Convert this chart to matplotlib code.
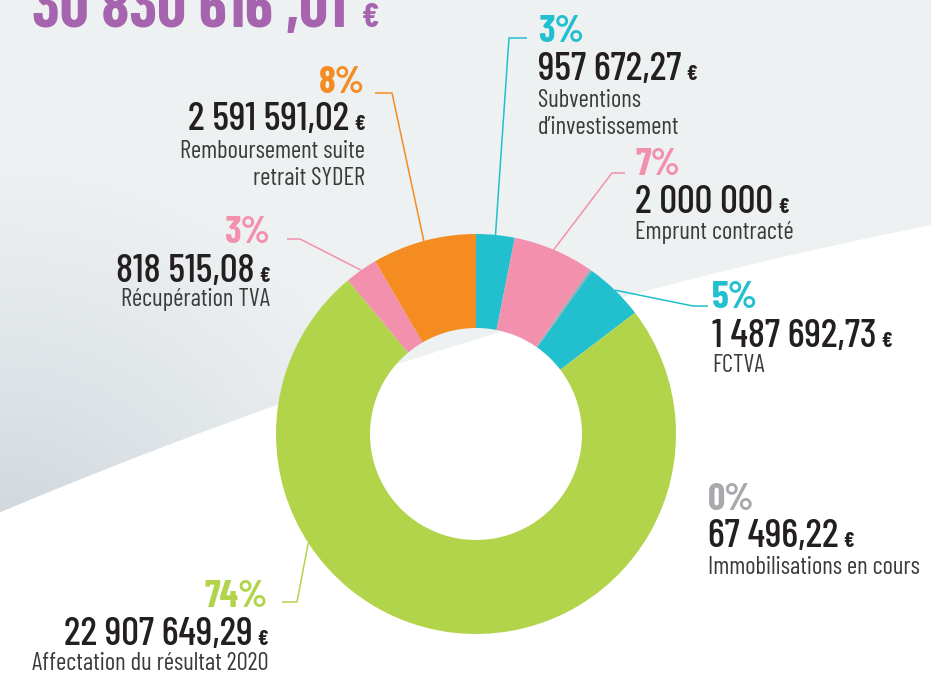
import numpy as np
import matplotlib
matplotlib.use("Agg")
import matplotlib.pyplot as plt
from matplotlib.patches import Polygon

W, H = 931, 674

# données du graphique
categories = ["Subventions\nd’investissement", "Emprunt contracté",
              "Immobilisations en cours", "FCTVA",
              "Affectation du résultat 2020", "Récupération TVA",
              "Remboursement suite\nretrait SYDER"]
montants = [957672.27, 2000000.00, 67496.22, 1487692.73,
            22907649.29, 818515.08, 2591591.02]
pourcentages = ["3%", "7%", "0%", "5%", "74%", "3%", "8%"]
couleurs = ["#22bfce", "#f390ad", "#a7a9ac", "#22bfce",
            "#b2d44a", "#f390ad", "#f58c22"]
total_affiche = "30 830 616 ,01"

# mise en page des étiquettes (pixels, origine en haut à gauche, lignes de base)
# x, alignement, base pourcentage, base montant, base libellé, coude de la ligne, angle forcé
etiquettes = [
    (538, "left", 42, 80, 107, [(509, 38), (527, 38)], None),
    (635, "left", 175, 213, 239, [(612, 173), (625, 173)], None),
    (708, "left", 510, 547, 574, None, None),
    (712, "left", 308, 347, 372, [(693, 306), (708, 306)], None),
    (268, "right", 607, 645, 670, [(297, 602), (282, 602)], 213),
    (270, "right", 243, 282, 306, [(300, 239), (287, 239)], None),
    (365, "right", 93, 130, 158, [(392, 93), (375, 93)], None),
]

CX, CY, R = 476, 434, 200
FAM = ["Barlow Condensed", "Barlow Semi Condensed", "IBM Plex Sans Condensed", "DejaVu Sans"]


def P(y):
    return H - y


def fmt(v):
    s = f"{v:,.2f}".replace(",", " ").replace(".", ",")
    if s.endswith(",00"):
        s = s[:-3]
    return s


fig = plt.figure(figsize=(W / 100, H / 100), dpi=100)
fig.patch.set_facecolor("white")
ax = fig.add_axes([0, 0, 1, 1])
ax.set_xlim(0, W)
ax.set_ylim(0, H)
ax.axis("off")

# fond gris en dégradé
yy, xx = np.mgrid[0:H, 0:W]
d = np.sqrt(xx ** 2 + (yy - 590.0) ** 2) / 430.0
t = np.clip(d, 0, 1) ** 0.8
fonce = np.array([0xc8, 0xd1, 0xd8]) / 255
clair = np.array([0xee, 0xf1, 0xf2]) / 255
img = fonce[None, None, :] * (1 - t[..., None]) + clair[None, None, :] * t[..., None]
im = ax.imshow(img, extent=(0, W, 0, H), origin="upper", zorder=0, aspect="auto")
bx = [0, 277, 470, 931]
by = [513, 403, 343, 225]
coef = np.polyfit(bx, by, 2)
xs = np.linspace(0, W, 200)
pts = [(x, P(np.polyval(coef, x))) for x in xs] + [(W, H), (0, H)]
zone = Polygon(pts, closed=True, transform=ax.transData, facecolor="none", edgecolor="none")
ax.add_patch(zone)
im.set_clip_path(zone)

# anneau
ax.pie(montants, colors=couleurs, startangle=90, counterclock=False,
       radius=R, center=(CX, P(CY)), frame=True,
       wedgeprops=dict(width=94, linewidth=0))
ax.set_xlim(0, W)
ax.set_ylim(0, H)
ax.set_aspect("auto")
ax.axis("off")

total = sum(montants)
cumul = np.cumsum([0] + montants[:-1])
milieux = [90 - 360 * (c + v / 2) / total for c, v in zip(cumul, montants)]

fig.canvas.draw()
rend = fig.canvas.get_renderer()


def montant_euro(x, y, ha, texte, taille, taille_e, couleur, poids="medium", ecart=5):
    if ha == "left":
        t1 = ax.text(x, P(y), texte, ha="left", va="baseline", fontsize=taille,
                     color=couleur, family=FAM, fontweight=poids)
        bb = t1.get_window_extent(rend)
        ax.text(bb.x1 + ecart, P(y), "€", ha="left", va="baseline", fontsize=taille_e,
                color=couleur, family=FAM, fontweight="bold")
    else:
        te = ax.text(x, P(y), "€", ha="right", va="baseline", fontsize=taille_e,
                     color=couleur, family=FAM, fontweight="bold")
        bbe = te.get_window_extent(rend)
        ax.text(x - bbe.width - ecart, P(y), texte, ha="right", va="baseline",
                fontsize=taille, color=couleur, family=FAM, fontweight=poids)


for i, (x, ha, yp, yv, yd, coude, angle) in enumerate(etiquettes):
    col = couleurs[i]
    ax.text(x, P(yp), pourcentages[i], ha=ha, va="baseline", fontsize=27.5,
            color=col, family=FAM, fontweight="bold")
    montant_euro(x, yv, ha, fmt(montants[i]), 28.5, 15.5, "#231f20", "medium")
    for k, ligne in enumerate(categories[i].split("\n")):
        ax.text(x, P(yd + 27 * k), ligne, ha=ha, va="baseline", fontsize=17.8,
                color="#3b3b3b", family=FAM)
    if coude is not None:
        a = np.radians(angle if angle is not None else milieux[i])
        lx = [CX + R * np.cos(a)] + [p[0] for p in coude]
        ly = [P(CY) + R * np.sin(a)] + [P(p[1]) for p in coude]
        ax.plot(lx, ly, color=col, lw=1.1, solid_capstyle="butt", zorder=1)

# titre
montant_euro(32, 27, "left", total_affiche, 46, 25, "#a564ad", "bold", ecart=16)

fig.savefig("out.png", dpi=100, facecolor="white")
